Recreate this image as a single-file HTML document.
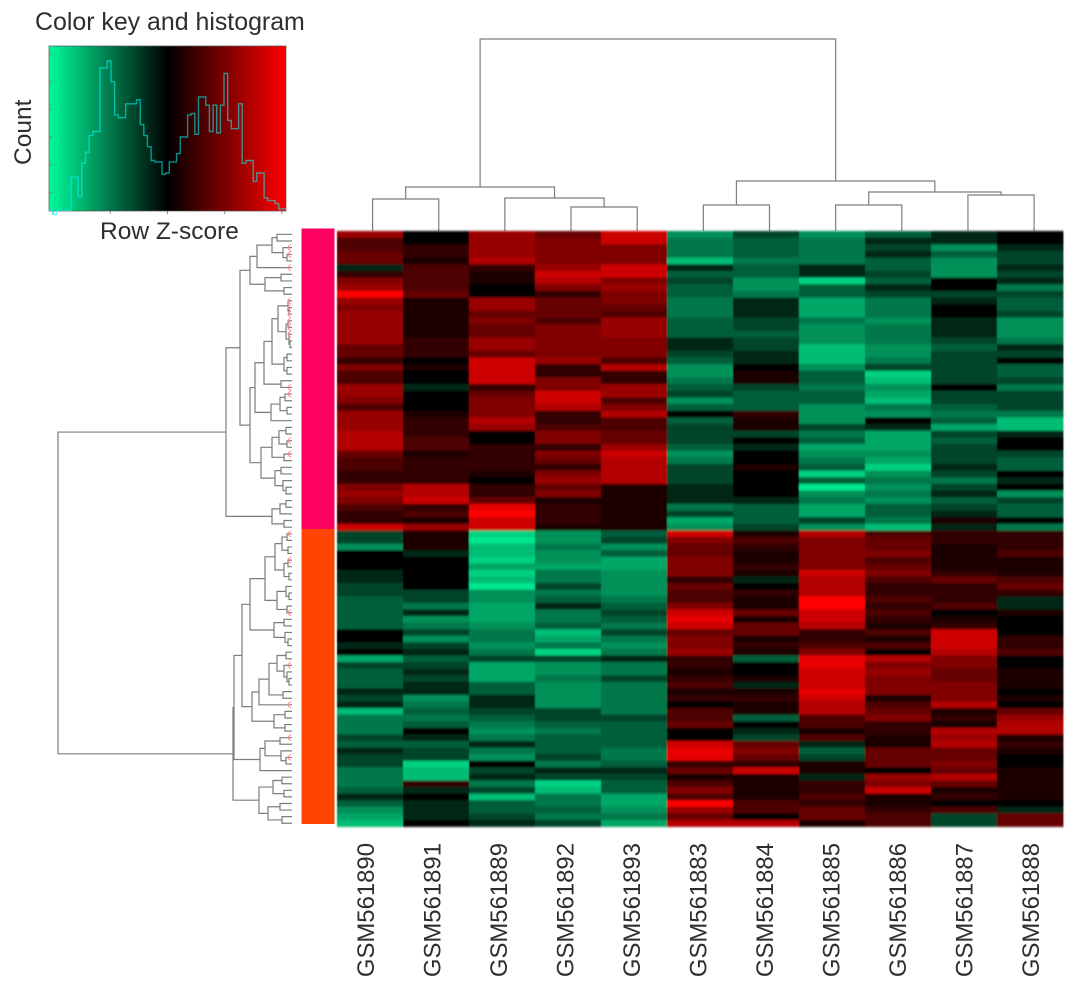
<!DOCTYPE html>
<html lang="en">
<head>
<meta charset="utf-8">
<title>Color key and heatmap</title>
<style>
html,body{margin:0;padding:0;background:#fff;width:1076px;height:990px;overflow:hidden}
svg{display:block}
text{font-family:"Liberation Sans",Arial,sans-serif;fill:#2e2e2e}
</style>
</head>
<body>
<svg id="chart" xmlns="http://www.w3.org/2000/svg" width="1076" height="990" viewBox="0 0 1076 990">
  <defs>
    <linearGradient id="keyGradient" x1="0" x2="1" y1="0" y2="0">
      <stop offset="0" stop-color="#00fa9a"/>
      <stop offset="0.5" stop-color="#000"/>
      <stop offset="1" stop-color="#f00"/>
    </linearGradient>
    <filter id="soft" x="-2%" y="-2%" width="104%" height="104%"><feGaussianBlur stdDeviation="0.6 1.1"/></filter>
    <filter id="softLine" x="-2%" y="-2%" width="104%" height="104%"><feGaussianBlur stdDeviation="0.35"/></filter>
  </defs>
  <g filter="url(#softLine)">
    <text x="35" y="30" font-size="24.9">Color key and histogram</text>
    <text transform="translate(31,165) rotate(-90)" font-size="24.5">Count</text>
    <text x="100" y="239" font-size="24.5">Row Z-score</text>
  </g>
  <rect x="49" y="46" width="237" height="165" fill="url(#keyGradient)"/>
  <rect x="49" y="46" width="237" height="165" fill="none" stroke="#555" stroke-width="0.7"/>
  <g id="keyTicks" filter="url(#softLine)"></g>
  <path id="histLine" fill="none" stroke="#00ffff" stroke-opacity="0.55" stroke-width="1.4" filter="url(#softLine)"/>
  <g id="colDend" filter="url(#softLine)"></g>
  <g id="rowDend" filter="url(#softLine)"></g>
  <g id="rowMarks" filter="url(#softLine)"></g>
  <rect x="301.5" y="228.5" width="33" height="300.5" fill="#ff0062"/>
  <rect x="301.5" y="529" width="33" height="295" fill="#ff4500"/>
  <g id="cells" filter="url(#soft)"></g>
  <g id="colLabels" filter="url(#softLine)"></g>
</svg>
<script>
// Sample names in display order
const sampleNames = ["GSM561890","GSM561891","GSM561889","GSM561892","GSM561893","GSM561883","GSM561884","GSM561885","GSM561886","GSM561887","GSM561888"];

// Row Z-score × 5 per row, one array per sample
const gsm561890 = [6,3,3,4,4,-1,2,5,6,10,6,5,6,6,6,6,6,4,4,2,5,3,3,6,6,5,3,6,6,6,7,7,7,4,3,3,2,2,5,6,5,3,2,2,8,-2,-2,-5,0,0,0,-1,-1,-2,-2,-3,-3,-3,-3,-3,0,0,-1,0,-6,-2,-3,-3,-3,-1,-2,-1,-7,-4,-4,-4,-2,-3,-1,-2,-2,-4,-4,-4,-3,-1,-3,-5,-6,-7];
const gsm561891 = [0,0,2,2,1,3,3,3,3,4,1,1,1,1,1,1,2,2,2,0,1,0,0,-1,0,0,0,1,2,2,2,3,3,1,2,2,2,2,7,7,8,2,3,1,6,1,1,1,-1,0,0,0,0,0,-2,-2,-4,-1,-5,-4,-2,-5,-2,-1,-3,-2,-1,-2,-1,-1,-5,-4,-3,-4,-3,0,-1,-3,-2,-2,-8,-7,-7,2,-1,0,-1,-1,-1,0];
const gsm561889 = [6,6,6,6,7,2,1,1,0,0,6,6,4,5,4,4,6,6,4,8,8,8,8,2,4,5,5,5,7,6,0,0,2,2,2,2,1,0,2,2,4,9,10,8,8,-8,-9,-7,-7,-8,-6,-8,-7,-9,-5,-5,-6,-6,-6,-5,-4,-4,-5,-4,-2,-6,-6,-6,-3,-3,-1,-1,-2,-3,-4,-5,-4,-1,-4,-5,0,-2,-1,-4,-2,-7,-3,-3,-2,-1];
const gsm561892 = [4,5,5,5,5,6,8,7,5,2,4,4,4,3,5,5,5,5,5,6,2,2,5,5,8,8,7,2,2,3,5,5,2,5,4,2,5,6,4,5,1,2,2,2,1,-5,-5,-4,-5,-5,-6,-4,-4,-2,-4,-3,-1,-4,-4,-3,-7,-6,-4,-8,-2,-5,-5,-4,-5,-5,-5,-5,-2,-2,-3,-4,-3,-3,-3,-2,-4,-1,-2,-8,-7,-4,-4,-3,-4,-2];
const gsm561893 = [8,8,5,5,5,8,8,5,6,5,5,4,3,6,6,6,5,5,5,3,7,2,2,6,6,3,5,7,3,3,4,4,6,8,7,7,7,7,1,1,1,1,1,1,1,-3,-2,-5,-3,-6,-6,-5,-5,-5,-5,-4,-3,-2,-3,-4,-2,-4,-5,-4,-1,-4,-4,-2,-4,-4,-4,-4,-4,-2,-3,-3,-3,-3,-4,-4,-3,-1,-2,-3,-3,-6,-6,-5,-4,-6];
const gsm561883 = [-5,-4,-4,-4,-7,-1,-3,-2,-3,-3,-4,-4,-4,-3,-3,-3,-1,-1,-2,-3,-5,-5,-4,-3,-2,-5,-3,0,-3,-2,-2,-2,-3,-5,-4,-2,-2,-2,-1,-1,-1,-4,-2,-6,-5,8,5,4,4,5,5,5,2,4,3,3,5,8,9,8,4,5,5,6,2,2,1,2,3,1,2,0,3,3,4,0,0,8,9,9,2,4,1,3,5,3,10,6,4,7];
const gsm561884 = [-2,-3,-3,-3,-4,-3,-3,-5,-5,-4,-1,-1,-1,-2,-2,-3,-2,-2,-1,-1,0,1,1,-2,-3,-3,-3,2,1,1,-2,0,-1,0,0,1,0,0,0,0,-1,-3,-3,-3,-2,1,3,2,1,1,2,1,-1,0,2,1,1,4,1,4,4,1,2,1,-3,0,0,1,-1,1,2,1,1,-3,0,-1,-2,4,5,4,2,8,1,1,1,1,3,3,0,7];
const gsm561885 = [-5,-4,-4,-4,-4,-1,-1,-8,-3,-3,-6,-6,-6,-4,-5,-5,-5,-7,-7,-7,-5,-3,-3,-4,-3,-3,-5,-5,-5,-2,-4,-3,-6,-5,-4,-3,-8,-3,-9,-5,-4,-6,-6,-2,-5,7,5,5,5,5,5,8,7,7,7,10,10,8,8,7,2,2,3,5,9,9,8,8,8,9,8,7,7,3,3,1,3,-1,-3,-2,1,1,-1,2,2,3,2,4,4,1];
const gsm561886 = [-3,-1,-2,-1,-3,-3,-2,-3,-1,-2,-4,-4,-4,-5,-4,-4,-4,-5,-5,-4,-2,-8,-7,-5,-6,-7,-4,-5,0,-1,-6,-6,-6,-5,-6,-8,-5,-4,-5,-4,-5,-3,-3,-4,-7,3,4,4,5,3,4,5,3,2,2,3,2,3,2,1,3,1,3,0,7,5,6,5,5,5,1,3,4,5,2,2,1,1,4,4,4,0,6,5,8,1,1,2,3,3];
const gsm561887 = [-1,-1,-5,-3,-5,-5,-5,0,0,-2,-1,0,0,-1,-1,-1,-2,-3,-2,-2,-2,-2,-2,0,-2,-2,-3,-4,-3,-6,-2,-3,-2,-2,-2,-1,-2,-4,-2,-1,-3,-2,-1,1,-1,2,2,1,1,1,1,2,4,2,2,2,3,0,1,2,8,8,8,7,5,5,4,4,5,5,5,7,1,2,1,7,6,7,4,4,5,4,7,4,1,2,0,3,-2,-2];
const gsm561888 = [0,0,-1,-2,-2,-1,-2,-1,-4,-2,-3,-3,-2,-5,-5,-5,-4,-1,-2,0,-3,-3,-2,-4,-2,-2,-2,-4,-7,-7,-1,0,0,-2,-3,-3,0,-1,0,-5,-2,-3,-3,0,-4,2,2,2,3,1,1,1,3,4,2,-1,-1,1,0,0,0,2,2,3,0,0,1,1,1,0,1,0,4,6,7,7,1,2,1,0,0,1,1,1,1,1,0,-1,4,4];
const sampleValues = [gsm561890,gsm561891,gsm561889,gsm561892,gsm561893,gsm561883,gsm561884,gsm561885,gsm561886,gsm561887,gsm561888];

// Histogram counts per bin over the colour key
const histCounts = [7,4,7,7,7,7,31,31,17,41,49,61,64,64,110,110,115,100,76,74,74,84,84,84,87,69,61,53,43,42,42,33,34,42,42,48,60,60,76,77,62,89,89,83,64,83,63,83,106,72,66,66,84,41,43,43,28,34,34,16,14,14,12,8,8];
const countTicks = [20,40,60,80,100,120];
const zTicks = [-8,-4,0,4,8];

// Dendrograms as [mergeHeight, left, right]; 0 means a leaf
const colTree = [192,[44,[32,0,0],[33,0,[24,0,0]]],[50,[26,0,0],[39,[26,0,0],[36,0,0]]]];
const rowTreeUpper = [66,
  [52,
    [42,[35,[20,[15,0,0],[9,0,[5,0,0]]],0],[27,[11,0,0],[8,0,0]]],
    [42,
      [37,
        [28,[20,[14,[4,0,[3,0,0]],[6,[4,0,0],[3,0,[2,0,0]]]],[8,[5,0,0],[5,0,0]]],[11,0,0]],
        [21,[12,[7,0,0],[5,0,0]],0]],
      [31,
        [20,[13,[6,0,0],[5,0,0]],[8,0,0]],
        [17,[11,0,0],[9,0,[6,0,0]]]]]],
  [20,[12,[6,0,0],0],[8,0,0]]];
const rowTreeLowerD = [50,
  [42,
    [27,[17,[10,[5,0,0],[4,0,0]],[8,[4,0,0],[3,0,0]]],[15,[6,0,[3,0,0]],[5,0,0]]],
    [18,[8,0,0],[7,0,[4,0,0]]]],
  [40,
    [33,[23,[15,[6,0,0],[8,0,[5,0,[3,0,0]]]],[9,0,0]],0],
    [18,[7,0,0],[7,0,0]]]];
const rowTreeLowerE = [32,[27,[12,0,0],[11,0,[6,0,0]]],0];
const rowTreeLowerF = [33,[19,[10,0,0],[8,0,0]],[24,[12,0,0],[10,0,0]]];
const rowTreeLower = [59,[58,rowTreeLowerD,rowTreeLowerE],rowTreeLowerF];
const rowTree = [234,rowTreeUpper,rowTreeLower];

// Rows whose tiny leaf labels show as pink marks
const markedRows = [2,3,5,10,11,12,13,14,15,23,24,31,33,45,49,57,65,71,76,79];

const SVGNS = "http://www.w3.org/2000/svg";
const colCount = sampleValues.length;

// Axis functions
const cellX = i => 337 + i * 66;
const cellY = r => r <= 45 ? 231 + r * 6.656 : 530.5 + (r - 45) * 6.578;
const rowCenter = r => (cellY(r) + cellY(r + 1)) / 2;
const colLeaf = i => 372.6 + i * 66.15;
const labelX = i => 374 + i * 66.5;
const colHeightY = h => 231 - h;
const rowHeightX = h => 292 - h;
const binX = i => 49 + i * (237 / histCounts.length);
const countY = c => 220 - c * 1.383;
const zX = z => 167.5 + z * 14.3;

function cellColor(v) {
  const t = Math.min(1, Math.abs(v) / 10);
  if (v >= 0) return "rgb(" + Math.round(255 * t) + ",0,0)";
  const g = Math.pow(t, 0.8);
  return "rgb(0," + Math.round(250 * g) + "," + Math.round(154 * g) + ")";
}

// Heatmap cells
const cells = document.getElementById("cells");
sampleValues.forEach(function (col, i) {
  col.forEach(function (v, r) {
    const c = document.createElementNS(SVGNS, "rect");
    c.setAttribute("x", cellX(i));
    c.setAttribute("y", cellY(r));
    c.setAttribute("width", 66.4);
    c.setAttribute("height", cellY(r + 1) - cellY(r) + 0.4);
    c.setAttribute("fill", cellColor(v));
    
    
    cells.appendChild(c);
  });
});

// Sample labels
const labels = document.getElementById("colLabels");
sampleNames.forEach(function (name, i) {
  const t = document.createElementNS(SVGNS, "text");
  t.setAttribute("transform", "translate(" + labelX(i) + ",843) rotate(-90)");
  t.setAttribute("text-anchor", "end");
  t.setAttribute("font-size", "23.9");
  t.textContent = name;
  
  
  labels.appendChild(t);
});

// Histogram step line
let histPath = "";
histCounts.forEach(function (c, i) {
  histPath += (i === 0 ? "M" : "L") + binX(i).toFixed(1) + " " + countY(c).toFixed(1) + "L" + binX(i + 1).toFixed(1) + " " + countY(c).toFixed(1);
});
document.getElementById("histLine").setAttribute("d", histPath);

// Colour key ticks
const keyTicks = document.getElementById("keyTicks");
countTicks.forEach(function (c) {
  const l = document.createElementNS(SVGNS, "line");
  l.setAttribute("x1", 49);
  l.setAttribute("x2", 52);
  l.setAttribute("y1", countY(c));
  l.setAttribute("y2", countY(c));
  l.setAttribute("stroke", "#6a8a80");
  
  
  keyTicks.appendChild(l);
});
zTicks.forEach(function (z) {
  const l = document.createElementNS(SVGNS, "line");
  l.setAttribute("x1", zX(z));
  l.setAttribute("x2", zX(z));
  l.setAttribute("y1", 211);
  l.setAttribute("y2", 214);
  l.setAttribute("stroke", "#888");
  
  
  keyTicks.appendChild(l);
});

// Column dendrogram
const colDend = document.getElementById("colDend");
let colLeafIndex = 0;
function drawCol(node) {
  if (node === 0) {
    return { x: colLeaf(colLeafIndex++), y: 231 };
  }
  const a = drawCol(node[1]);
  const b = drawCol(node[2]);
  const y = colHeightY(node[0]);
  const p = document.createElementNS(SVGNS, "path");
  p.setAttribute("d", "M" + a.x + " " + a.y + "V" + y + "H" + b.x + "V" + b.y);
  p.setAttribute("fill", "none");
  p.setAttribute("stroke", "#7d7d7d");
  p.setAttribute("stroke-width", "1.2");
  
  
  colDend.appendChild(p);
  return { x: (a.x + b.x) / 2, y: y };
}
drawCol(colTree);

// Row dendrogram
const rowDend = document.getElementById("rowDend");
let rowLeafIndex = 0;
function drawRow(node) {
  if (node === 0) {
    return { x: rowHeightX(0), y: rowCenter(rowLeafIndex++) };
  }
  const a = drawRow(node[1]);
  const b = drawRow(node[2]);
  const x = rowHeightX(node[0]);
  const p = document.createElementNS(SVGNS, "path");
  p.setAttribute("d", "M" + a.x + " " + a.y + "H" + x + "V" + b.y + "H" + b.x);
  p.setAttribute("fill", "none");
  p.setAttribute("stroke", "#7d7d7d");
  p.setAttribute("stroke-width", "1.2");
  
  
  rowDend.appendChild(p);
  return { x: x, y: (a.y + b.y) / 2 };
}
drawRow(rowTree);

// Pink leaf marks
const rowMarks = document.getElementById("rowMarks");
markedRows.forEach(function (r) {
  const p = document.createElementNS(SVGNS, "path");
  const y = rowCenter(r);
  p.setAttribute("d", "M291 " + (y - 3) + "q-6 3 0 6");
  p.setAttribute("fill", "none");
  p.setAttribute("stroke", "#ff8a8a");
  p.setAttribute("stroke-width", "1");
  
  
  rowMarks.appendChild(p);
});
</script>
</body>
</html>
